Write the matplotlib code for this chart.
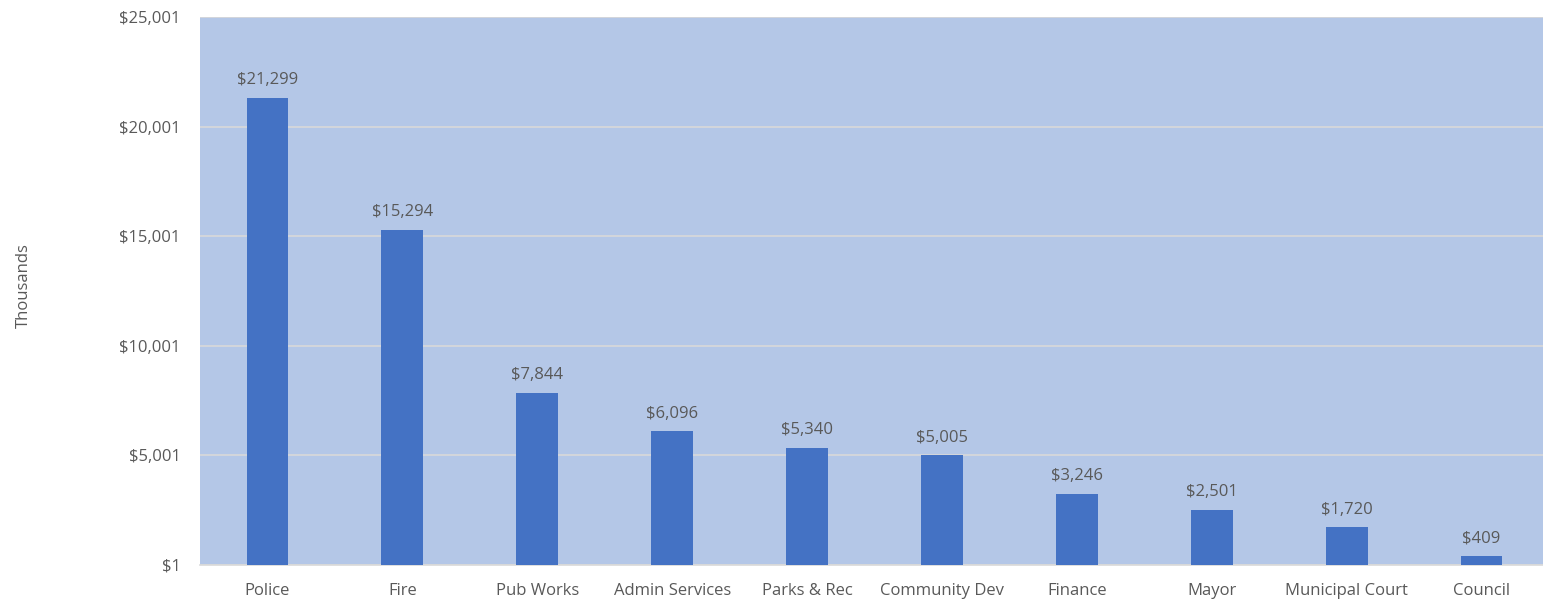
import matplotlib.pyplot as plt
from matplotlib.ticker import FuncFormatter

departments = ["Police", "Fire", "Pub Works", "Admin Services", "Parks & Rec",
               "Community Dev", "Finance", "Mayor", "Municipal Court", "Council"]
budget = [21299, 15294, 7844, 6096, 5340, 5005, 3246, 2501, 1720, 409]
y_ticks = [1, 5001, 10001, 15001, 20001, 25001]

text_col = "#595959"
plt.rcParams['font.family'] = ['Open Sans', 'DejaVu Sans']

fig = plt.figure(figsize=(15.43, 6.04), dpi=100)
# plot area runs slightly past the right edge of the picture
ax = fig.add_axes([200 / 1543, 39 / 604, 1349 / 1543, 548 / 604])
ax.set_facecolor("#B4C7E7")

x = range(len(departments))
bars = ax.bar(x, [v - 1 for v in budget], bottom=1, width=0.31,
              color="#4472C4", zorder=3)
ax.bar_label(bars, labels=[f"${v:,}" for v in budget], padding=7,
             fontsize=12, color=text_col)

ax.set_xlim(-0.5, len(departments) - 0.5)
ax.set_ylim(1, 25001)
ax.set_yticks(y_ticks)
ax.yaxis.set_major_formatter(FuncFormatter(lambda v, p: f"${int(v):,}"))
ax.set_xticks(list(x))
ax.set_xticklabels(departments)
ax.grid(axis="y", color="#D9D9D9", linewidth=1.2, zorder=1)
ax.tick_params(axis="both", length=0, labelsize=12, labelcolor=text_col)
ax.tick_params(axis="y", pad=14)
ax.tick_params(axis="x", pad=13)

for side in ["left", "right", "top"]:
    ax.spines[side].set_visible(False)
ax.spines["bottom"].set_color("#D9D9D9")
ax.spines["bottom"].set_linewidth(1.2)

ax.set_ylabel("Thousands", fontsize=12, color=text_col)
ax.yaxis.set_label_coords(-168 / 1349, 0.51)

fig.savefig("out.png", dpi=100)
